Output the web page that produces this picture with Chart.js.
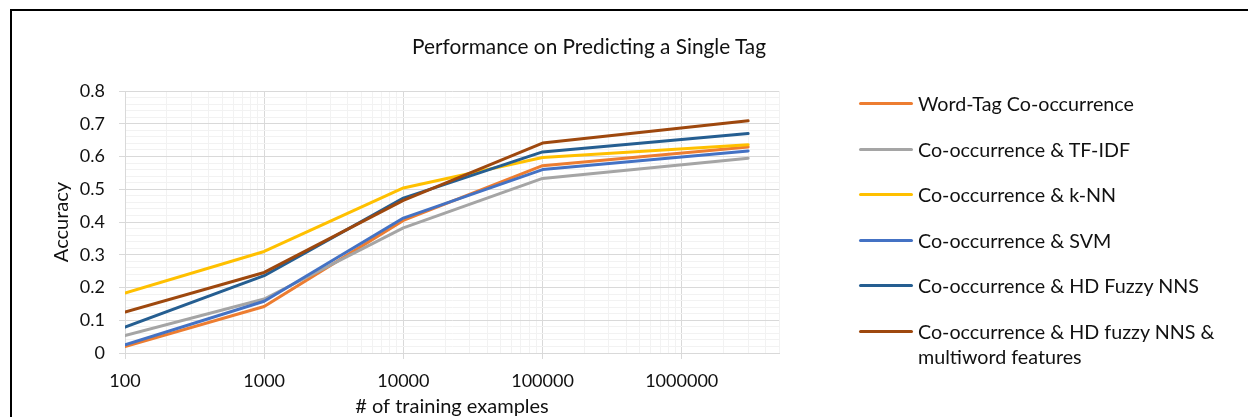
<!DOCTYPE html>
<html>
<head>
<meta charset="utf-8">
<title>Performance on Predicting a Single Tag</title>
<script src="https://cdn.jsdelivr.net/npm/chart.js@4.4.1/dist/chart.umd.min.js"></script>
<style>
  body { margin: 0; background: #fff; }
  #wrap { position: relative; width: 1248px; height: 417px; overflow: hidden; font-family: Lato, "Open Sans", sans-serif; color: #111; }
  #frame { position: absolute; left: 10px; top: 9px; width: 1260px; height: 430px; border-top: 2px solid #000; border-left: 2px solid #000; }
  #plot { position: absolute; left: 0; top: 0; }
  #chartTitle { position: absolute; left: 339px; width: 500px; top: 34px; text-align: center; font-size: 20.8px; line-height: 24px; }
  #legend { position: absolute; left: 859px; top: 91px; width: 380px; display: flex; flex-direction: column; gap: 20.6px; font-size: 19.7px; line-height: 25px; }
  .item { display: flex; align-items: flex-start; }
  .swatch { width: 54px; height: 3px; border-radius: 2px; margin-top: 11px; margin-right: 5px; flex: none; }
  .label { width: 320px; }
</style>
</head>
<body>
<div id="wrap">
  <canvas id="plot" width="1248" height="417"></canvas>
  <div id="frame"></div>
  <div id="chartTitle">Performance on Predicting a Single Tag</div>
  <div id="legend"></div>
</div>
<script>
// data
const trainingSizes = [100, 1000, 10000, 100000, 3000000];
const wordTag      = [0.020, 0.142, 0.405, 0.572, 0.629];
const tfIdf        = [0.053, 0.165, 0.382, 0.533, 0.595];
const knn          = [0.183, 0.310, 0.504, 0.597, 0.636];
const svm          = [0.025, 0.158, 0.412, 0.560, 0.617];
const hdFuzzy      = [0.079, 0.236, 0.473, 0.614, 0.670];
const hdFuzzyMulti = [0.125, 0.246, 0.466, 0.641, 0.709];

const seriesNames = [
  "Word-Tag Co-occurrence",
  "Co-occurrence & TF-IDF",
  "Co-occurrence & k-NN",
  "Co-occurrence & SVM",
  "Co-occurrence & HD Fuzzy NNS",
  "Co-occurrence & HD fuzzy NNS & multiword features"
];
const xTickLabels = ["100", "1000", "10000", "100000", "1000000"];
const yTickLabels = ["0", "0.1", "0.2", "0.3", "0.4", "0.5", "0.6", "0.7", "0.8"];

// styles
const colors = ["#ED7D31", "#A5A5A5", "#FFC000", "#4472C4", "#255E91", "#9E480E"];
const majorGrid = "#d9d9d9";
const minorGrid = "#f2f2f2";
const fontFamily = "Lato, 'Open Sans', sans-serif";
const tickFont = { family: fontFamily, size: 18 };
const textColor = '#111';

const allSeries = [wordTag, tfIdf, knn, svm, hdFuzzy, hdFuzzyMulti];

const datasets = allSeries.map((vals, i) => ({
  label: seriesNames[i],
  data: vals.map((v, j) => ({ x: trainingSizes[j], y: v })),
  borderColor: colors[i],
  backgroundColor: colors[i],
  borderWidth: 3,
  pointRadius: 0,
  tension: 0,
  borderCapStyle: 'round',
  borderJoinStyle: 'round',
  order: allSeries.length - i  // last series on top, like excel
}));

const isDecade = v => Math.abs(Math.log10(v) - Math.round(Math.log10(v))) < 1e-9;

new Chart(document.getElementById('plot'), {
  type: 'line',
  data: { datasets: datasets },
  options: {
    responsive: false,
    animation: false,
    devicePixelRatio: 1,
    layout: { padding: { left: 12, top: 91, right: 469, bottom: 0 } },
    plugins: {
      legend: { display: false },
      tooltip: { enabled: false }
    },
    scales: {
      x: {
        type: 'logarithmic',
        min: 100,
        max: 5000000,
        afterBuildTicks: s => {
          const t = [];
          for (let d = 100; d <= 1000000; d *= 10) {
            for (let k = 1; k <= 9; k++) {
              if (d * k <= 5000000) t.push({ value: d * k });
            }
          }
          s.ticks = t;
        },
        afterFit: s => { s.height = 64; },
        ticks: {
          autoSkip: false,
          maxRotation: 0,
          padding: 11,
          color: textColor,
          font: tickFont,
          callback: v => {
            const lbl = String(Math.round(v));
            return xTickLabels.includes(lbl) ? lbl : '';
          }
        },
        grid: {
          color: c => isDecade(c.tick.value) ? majorGrid : minorGrid,
          tickColor: c => (isDecade(c.tick.value) && c.tick.value <= 1000000) ? majorGrid : 'rgba(0,0,0,0)',
          tickLength: 6,
          lineWidth: 1
        },
        border: { color: majorGrid },
        title: {
          display: true,
          text: '# of training examples',
          color: textColor,
          font: { family: fontFamily, size: 20 },
          padding: { top: 0, bottom: -2 }
        }
      },
      y: {
        min: 0,
        max: 0.8,
        afterBuildTicks: s => {
          const t = [];
          for (let i = 0; i <= 40; i++) t.push({ value: i * 0.02 });
          s.ticks = t;
        },
        afterFit: s => { s.width = 113; },
        ticks: {
          autoSkip: false,
          padding: 14,
          color: textColor,
          font: tickFont,
          callback: (v, i) => (i % 5 === 0) ? yTickLabels[i / 5] : ''
        },
        grid: {
          color: c => (c.index % 5 === 0) ? majorGrid : minorGrid,
          tickColor: c => (c.index % 5 === 0) ? majorGrid : 'rgba(0,0,0,0)',
          tickLength: 6,
          lineWidth: 1
        },
        border: { color: majorGrid },
        title: {
          display: true,
          text: 'Accuracy',
          color: textColor,
          font: { family: fontFamily, size: 20 },
          padding: { top: 38, bottom: 0 }
        }
      }
    }
  }
});

// legend on the right, excel style
const legend = document.getElementById('legend');
seriesNames.forEach((name, i) => {
  const item = document.createElement('div');
  item.className = 'item';
  const sw = document.createElement('span');
  sw.className = 'swatch';
  sw.style.background = colors[i];
  const txt = document.createElement('span');
  txt.className = 'label';
  txt.textContent = name;
  item.appendChild(sw);
  item.appendChild(txt);
  legend.appendChild(item);
});
</script>
</body>
</html>
